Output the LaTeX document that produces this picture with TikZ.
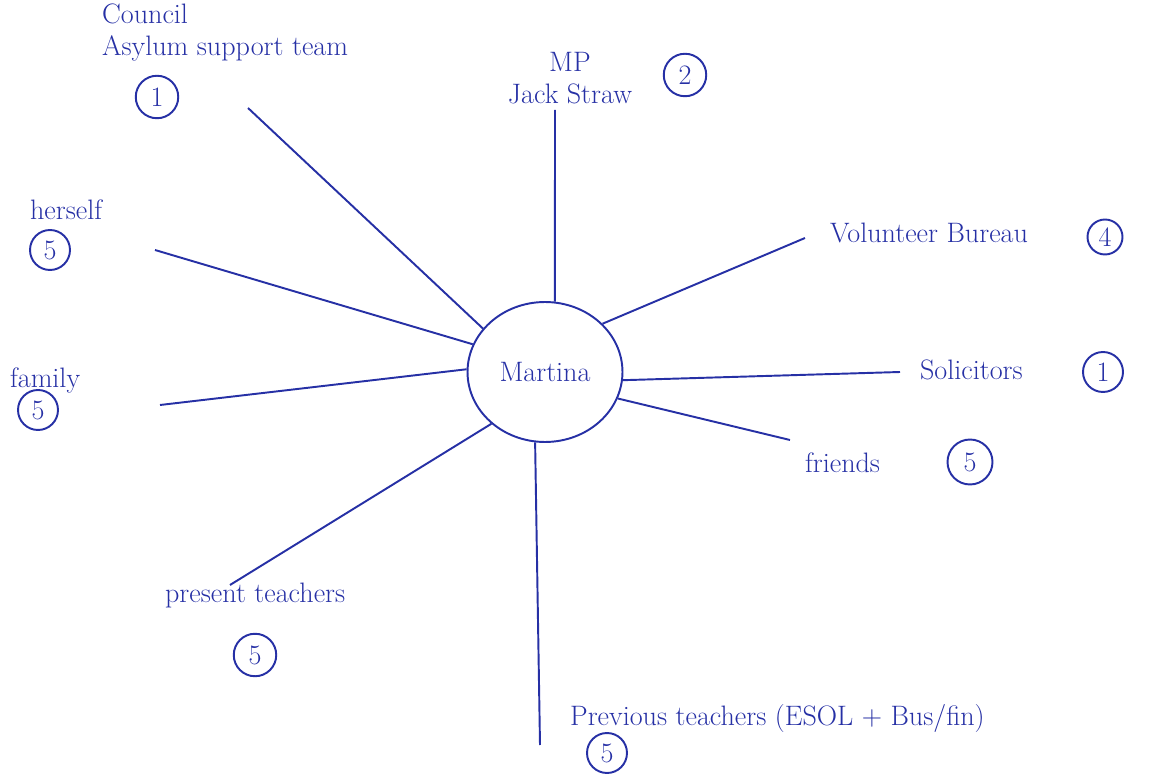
\documentclass[tikz,border=0pt]{standalone}
\usepackage{tikz}
\usetikzlibrary{positioning, shapes}
\definecolor{ink}{RGB}{38,48,165}
\tikzset{inkline/.style = {draw=ink, line width=1.1pt},
	lbl/.style = {text=ink, font=\fontsize{16}{18}\selectfont, inner sep=1pt},
	numcirc/.style = {draw=ink, line width=1.1pt, circle, minimum size=#1, inner sep=0pt, text=ink, font=\fontsize{16}{18}\selectfont},
	numcirc/.default = 0.85cm}

\begin{document}
\begin{tikzpicture}[x=0.02cm, y=-0.02cm]
\useasboundingbox (0,0) rectangle (1153,776);
\node[draw=ink, line width=1.1pt, ellipse, minimum width=3.1cm, minimum height=2.8cm, lbl] (m) at (545,372) {Martina};
% labels round the hub
\node[lbl, align=left, anchor=north west] (council) at (100,2) {Council\\Asylum support team};
\node[numcirc] (nCouncil) at (157,97) {1};
\node[lbl, align=center] (mp) at (570,78) {MP\\Jack Straw};
\node[numcirc] (nMP) at (685,75) {2};
\node[lbl, anchor=west] (vol) at (828,233) {Volunteer Bureau};
\node[numcirc=0.7cm] (nVol) at (1105,237) {4};
\node[lbl, anchor=west] (her) at (28,210) {herself};
\node[numcirc=0.8cm] (nHer) at (50,250) {5};
\node[lbl, anchor=west] (sol) at (918,370) {Solicitors};
\node[numcirc=0.8cm] (nSol) at (1103,372) {1};
\node[lbl, anchor=west] (fam) at (8,380) {family};
\node[numcirc=0.8cm] (nFam) at (38,410) {5};
\node[lbl, anchor=west] (fri) at (803,463) {friends};
\node[numcirc=0.9cm] (nFri) at (970,462) {5};
\node[lbl, anchor=west] (pre) at (163,595) {present teachers};
\node[numcirc] (nPre) at (255,655) {5};
\node[lbl, anchor=west] (prev) at (568,718) {Previous teachers (ESOL + Bus/fin)};
\node[numcirc=0.8cm] (nPrev) at (607,753) {5};
% free ends of the spokes
\coordinate (cCouncil) at (248,108);
\coordinate (cMP) at (555,110);
\coordinate (cVol) at (805,238);
\coordinate (cHer) at (155,250);
\coordinate (cSol) at (900,372);
\coordinate (cFam) at (160,405);
\coordinate (cFri) at (790,440);
\coordinate (cPre) at (230,585);
\coordinate (cPrev) at (540,745);
\foreach \c/\a in {cCouncil/145,cMP/82,cVol/40,cHer/159,cSol/354,cFam/178,cFri/340,cPre/224,cPrev/262}
	\draw[inkline] (\c) -- (m.\a);
\end{tikzpicture}
\end{document}
